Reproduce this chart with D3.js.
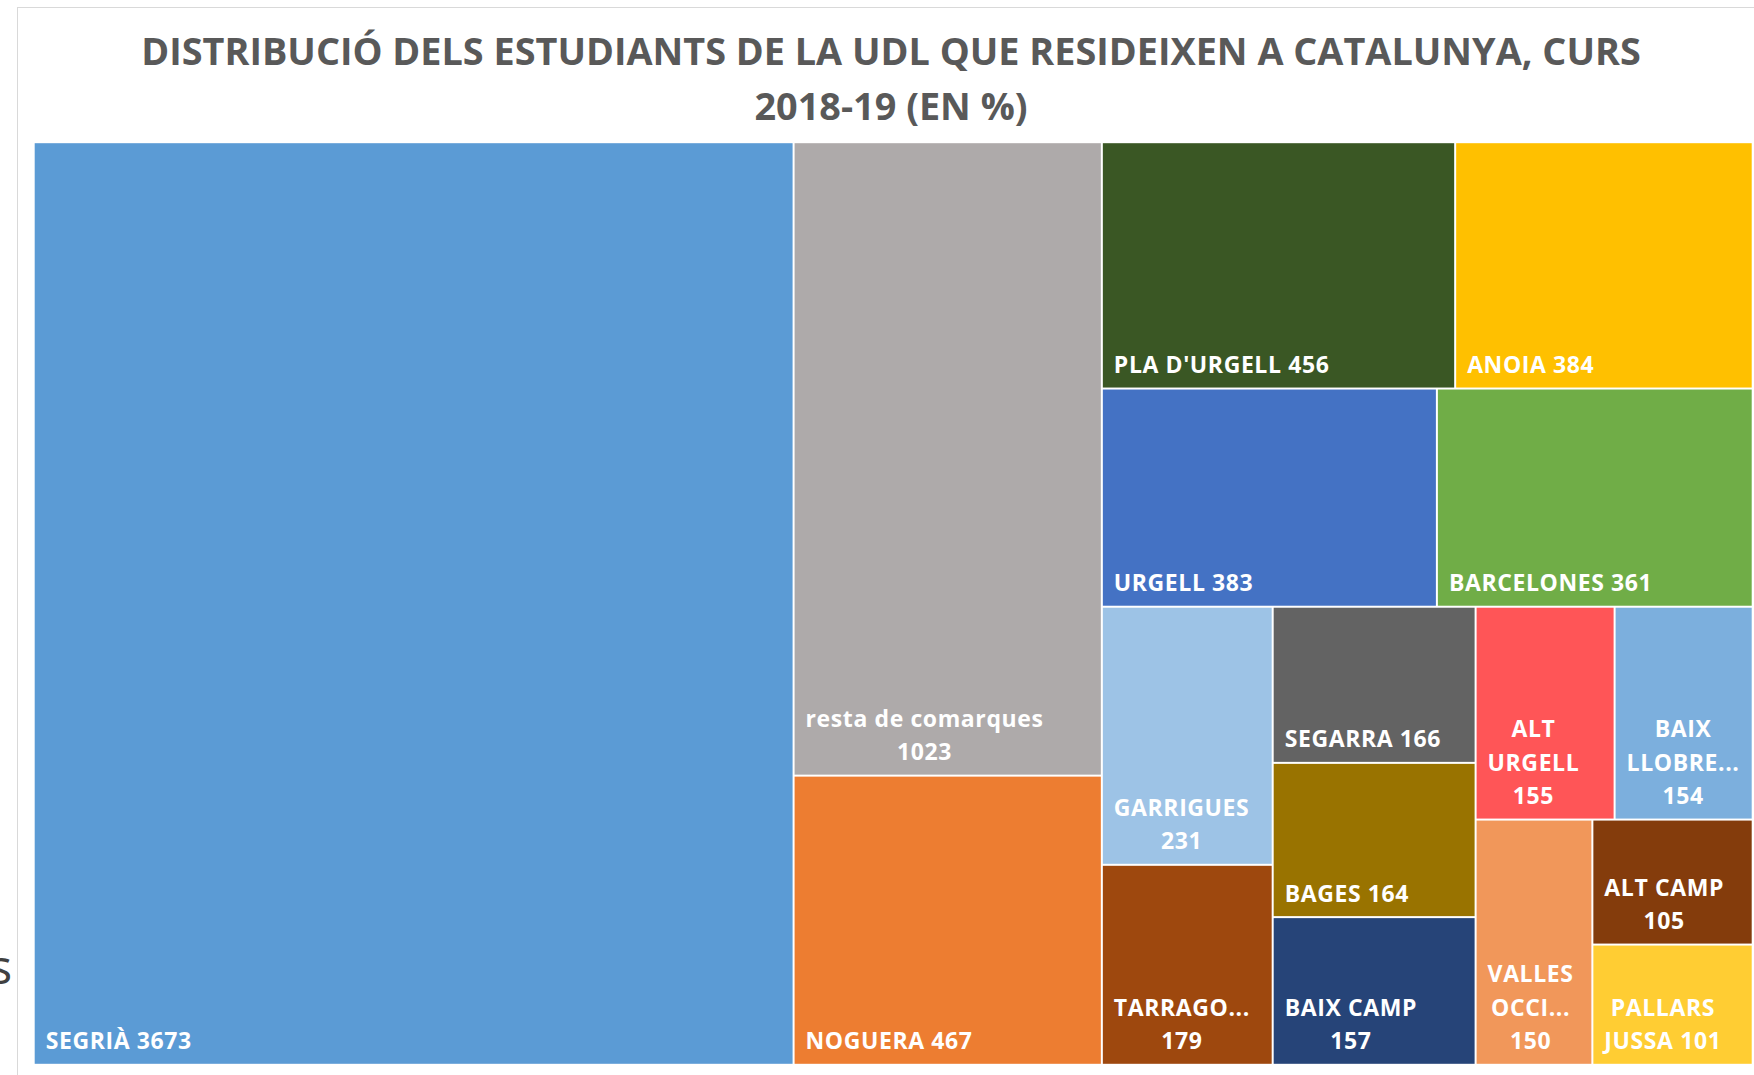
<!DOCTYPE html>
<html>
<head>
<meta charset="utf-8">
<script src="https://cdn.jsdelivr.net/npm/d3@7"></script>
<style>
  body { margin: 0; background: #fff; }
  .container { width: 1754px; height: 1075px; }
</style>
</head>
<body>
<div class="container"></div>
<script>
/********** the Data **********/
let comarques = ["SEGRIÀ", "resta de comarques", "NOGUERA", "PLA D'URGELL", "ANOIA",
  "URGELL", "BARCELONES", "GARRIGUES", "TARRAGONES", "SEGARRA", "BAGES", "BAIX CAMP",
  "ALT URGELL", "BAIX LLOBREGAT", "VALLES OCCIDENTAL", "ALT CAMP", "PALLARS JUSSA"];

let estudiants = [3673, 1023, 467, 456, 384, 383, 361, 231, 179, 166, 164, 157, 155, 154, 150, 105, 101];

// labels as Excel shows them (wrapped / truncated)
let etiquetes = ["SEGRIÀ 3673", "resta de comarques\n1023", "NOGUERA 467", "PLA D'URGELL 456",
  "ANOIA 384", "URGELL 383", "BARCELONES 361", "GARRIGUES\n231", "TARRAGO...\n179",
  "SEGARRA 166", "BAGES 164", "BAIX CAMP\n157", "ALT\nURGELL\n155", "BAIX\nLLOBRE...\n154",
  "VALLES\nOCCI...\n150", "ALT CAMP\n105", "PALLARS\nJUSSA 101"];

let colors = ["#5b9bd5", "#aeaaaa", "#ed7d31", "#3a5724", "#ffc000", "#4472c4", "#70ad47",
  "#9dc3e6", "#9e480e", "#636363", "#997300", "#264478", "#ff5557", "#7cafdd", "#f1975a",
  "#843c0c", "#ffcd33"];

// how many boxes go in each strip of the layout (Excel groups them this way)
let stripSizes = [1, 2, 2, 2, 2, 3, 2, 1, 1, 1];

let title = ["DISTRIBUCIÓ DELS ESTUDIANTS DE LA UDL QUE RESIDEIXEN A CATALUNYA, CURS", "2018-19 (EN %)"];

let dades = comarques.map((c, i) => ({name: c, value: estudiants[i], label: etiquetes[i], color: colors[i]}));


/********** tiling: strips along the shorter side, like squarify **********/
function tileExcel(parent, x0, y0, x1, y1) {
  let nodes = parent.children;
  let value = parent.value;
  let i = 0;
  stripSizes.forEach(n => {
    let kids = nodes.slice(i, i + n);
    if (!kids.length) return;
    let row = {children: kids, value: d3.sum(kids, d => d.value)};
    let dx = x1 - x0, dy = y1 - y0;
    if (dx < dy) {
      let y = y0 + dy * row.value / value;
      d3.treemapDice(row, x0, y0, x1, y);
      y0 = y;
    } else {
      let x = x0 + dx * row.value / value;
      d3.treemapSlice(row, x0, y0, x, y1);
      x0 = x;
    }
    value -= row.value;
    i += n;
  });
}


/********** drawChart function **********/
function drawChart() {
  let width = 1754;
  let height = 1075;
  let area = {left: 34.7, top: 143.2, right: 1751.7, bottom: 1063.8};

  let chart = d3.select(".container")
    .append("svg")
      .attr("class", "chart")
      .attr("width", width)
      .attr("height", height);

  chart.append("rect")
    .attr("width", width).attr("height", height)
    .attr("fill", "#fff");

  // chart frame (right and bottom fall outside the picture)
  chart.append("rect")
    .attr("x", 17.5).attr("y", 7.5)
    .attr("width", 1800).attr("height", 1200)
    .attr("fill", "none")
    .attr("stroke", "#d9d9d9");

  // cut-off letter from the neighbouring object
  chart.append("text")
    .attr("x", 12).attr("y", 984)
    .attr("text-anchor", "end")
    .style("font-family", "Open Sans")
    .style("font-size", "48px")
    .attr("fill", "#404040")
    .text("s");

  /***** title *****/
  let titleG = chart.append("g")
    .style("font-family", "Open Sans")
    .style("font-weight", "bold")
    .attr("fill", "#595959")
    .attr("text-anchor", "middle");

  let t1 = titleG.append("text")
    .attr("x", 891).attr("y", 65)
    .style("font-size", "36px")
    .text(title[0]);
  // fit first line to the width seen in the original
  let fs = 36 * 1500 / t1.node().getComputedTextLength();
  t1.style("font-size", fs + "px");
  titleG.append("text")
    .attr("x", 891).attr("y", 120)
    .style("font-size", fs + "px")
    .text(title[1]);

  /***** treemap *****/
  let root = d3.hierarchy({children: dades})
    .sum(d => d.value || 0);

  d3.treemap()
    .tile(tileExcel)
    .size([area.right - area.left, area.bottom - area.top])
    .paddingInner(2)(root);

  let outerG = chart.append("g")
    .attr("transform", `translate(${area.left}, ${area.top})`);

  let cell = outerG.selectAll("g.cell")
    .data(root.leaves())
    .join("g")
      .attr("class", "cell");

  cell.append("rect")
    .attr("x", d => d.x0)
    .attr("y", d => d.y0)
    .attr("width", d => d.x1 - d.x0)
    .attr("height", d => d.y1 - d.y0)
    .attr("fill", d => d.data.color);

  // labels: block at bottom-left, lines centred inside the block
  let lineH = 33.5;
  cell.each(function(d) {
    let g = d3.select(this);
    let lines = d.data.label.split("\n");
    let txt = g.selectAll("text")
      .data(lines)
      .join("text")
        .attr("fill", "#fff")
        .style("font-family", "Open Sans")
        .style("font-weight", "bold")
        .style("font-size", "23px")
        .style("letter-spacing", "0.6px")
        .attr("text-anchor", "middle")
        .attr("y", (l, i) => d.y1 - 14.5 - (lines.length - 1 - i) * lineH)
        .text(l => l);
    let maxW = d3.max(txt.nodes(), n => n.getComputedTextLength());
    txt.attr("x", d.x0 + 11 + maxW / 2);
  });
}

drawChart();
</script>
</body>
</html>
